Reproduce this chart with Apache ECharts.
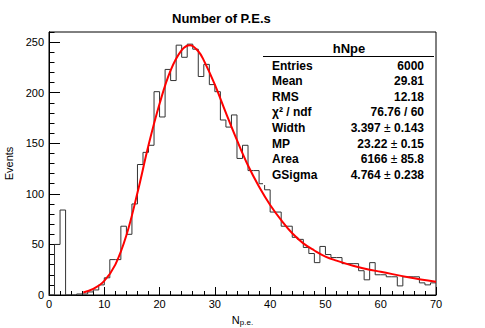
<!DOCTYPE html>
<html>
<head>
<meta charset="utf-8">
<title>Number of P.E.s</title>
<script src="https://cdn.jsdelivr.net/npm/echarts@6/dist/echarts.min.js"></script>
<style>
  html, body { margin: 0; padding: 0; background: #fff; }
  #main { width: 485px; height: 328px; }
</style>
</head>
<body>
<div id="main"></div>
<script>
// hNpe histogram: bins of width 1 from 0 to 70
var binStart = 0;
var binWidth = 1;
var counts = [
  0, 50, 84, 0, 0, 1, 1, 3, 5, 10,
  17, 35, 35, 68, 60, 90, 129, 141, 148, 201,
  176, 223, 212, 247, 235, 248, 243, 216, 228, 208,
  201, 173, 166, 178, 135, 148, 123, 123, 110, 104,
  82, 82, 68, 68, 57, 55, 47, 41, 32, 48,
  40, 37, 37, 31, 31, 31, 24, 15, 32, 20,
  20, 18, 18, 9, 18, 18, 18, 12, 10, 12
];

// fitted curve (landau x gauss)
var fitX = [6.2, 8, 10, 12, 14, 16, 18, 20, 22, 24, 25.5, 27, 28, 30, 32, 34, 36, 38, 40, 42, 44, 46, 48, 50, 52, 55, 58, 60, 65, 70];
var fitY = [2.5, 6, 14, 30, 59, 101, 148, 189, 222, 242, 247, 241, 232, 208, 180, 153, 128, 107, 89, 74, 61, 51, 44, 38, 34, 29, 25, 23, 17.5, 13];

// stats box
var statTitle = 'hNpe';
var statNames = ['Entries', 'Mean', 'RMS', 'χ² / ndf', 'Width', 'MP', 'Area', 'GSigma'];
var statValues = ['6000', '29.81', '12.18', '76.76 / 60', '3.397 ± 0.143', '23.22 ± 0.15', '6166 ± 85.8', '4.764 ± 0.238'];

var FONT = '"Liberation Sans", Arial, Helvetica, sans-serif';

var histData = counts.map(function (v, k) { return [binStart + k * binWidth, v]; });
histData.push([binStart + counts.length * binWidth, counts[counts.length - 1]]);
var fitData = fitX.map(function (x, i) { return [x, fitY[i]]; });

// the ± is drawn in a lighter weight, like ROOT's symbol font
function statText(s) {
  return s.split('±').map(function (p) { return '{b|' + p + '}'; }).join('{p|±}');
}

var richStat = {
  b: { fontFamily: FONT, fontSize: 12, fontWeight: 'bold', fill: '#000' },
  p: { fontFamily: FONT, fontSize: 12, fontWeight: 'normal', fill: '#000' }
};

// stats box graphics
var graphics = [
  { type: 'rect', z: 100, shape: { x: 263, y: 33, width: 172, height: 152 }, style: { fill: '#fff' } },
  { type: 'line', z: 101, shape: { x1: 263, y1: 56.5, x2: 434, y2: 56.5 }, style: { stroke: '#000', lineWidth: 1 } },
  { type: 'text', z: 101, x: 349, y: 48, style: { text: statTitle, fontFamily: FONT, fontSize: 13, fontWeight: 'bold', fill: '#000', align: 'center', verticalAlign: 'middle' } }
];
statNames.forEach(function (name, i) {
  var y = 65.5 + i * 15.6;
  graphics.push({ type: 'text', z: 101, x: 272, y: y, style: { text: name, fontFamily: FONT, fontSize: 12, fontWeight: 'bold', fill: '#000', align: 'left', verticalAlign: 'middle' } });
  graphics.push({ type: 'text', z: 101, x: 424, y: y, style: { text: statText(statValues[i]), rich: richStat, fontFamily: FONT, fontSize: 12, fontWeight: 'bold', fill: '#000', align: 'right', verticalAlign: 'middle' } });
});

var chart = echarts.init(document.getElementById('main'), null, { renderer: 'svg' });

var option = {
  animation: false,
  backgroundColor: '#fff',
  textStyle: { fontFamily: FONT },
  title: {
    text: 'Number of P.E.s',
    left: 167,
    top: 7,
    textStyle: { fontFamily: FONT, fontSize: 13, fontWeight: 'bold', color: '#000' }
  },
  grid: {
    left: 49, right: 49, top: 32, bottom: 33,
    show: true,
    borderColor: '#000',
    borderWidth: 1,
    backgroundColor: '#fff',
    containLabel: false,
    outerBoundsMode: 'none'
  },
  xAxis: {
    type: 'value',
    min: 0,
    max: 70,
    interval: 10,
    name: '{n|N}{s|p.e.}',
    nameLocation: 'middle',
    nameGap: 12,
    nameTextStyle: {
      rich: {
        n: { fontFamily: FONT, fontSize: 11, color: '#000', verticalAlign: 'top', lineHeight: 12 },
        s: { fontFamily: FONT, fontSize: 8, color: '#000', verticalAlign: 'bottom', padding: [5, 0, 0, 0], lineHeight: 9 }
      }
    },
    axisLine: { show: true, lineStyle: { color: '#000', width: 1 } },
    axisTick: { show: true, inside: true, length: 8, lineStyle: { color: '#000' } },
    minorTick: { show: true, splitNumber: 5, length: 4, lineStyle: { color: '#000' } },
    axisLabel: { color: '#000', fontSize: 11, margin: 3, fontFamily: FONT },
    splitLine: { show: false }
  },
  yAxis: [
    {
      // minor ticks every 10
      type: 'value',
      position: 'left',
      min: 0,
      max: 260,
      interval: 10,
      axisLine: { show: true, lineStyle: { color: '#000', width: 1 } },
      axisTick: { show: true, inside: true, length: 5.5, lineStyle: { color: '#000' } },
      axisLabel: { show: false },
      splitLine: { show: false }
    },
    {
      // major ticks every 50
      type: 'value',
      position: 'left',
      min: 0,
      max: 260,
      interval: 50,
      name: 'Events',
      nameLocation: 'middle',
      nameGap: 28,
      nameTextStyle: { fontFamily: FONT, fontSize: 11, color: '#000' },
      axisLine: { show: true, lineStyle: { color: '#000', width: 1 } },
      axisTick: { show: true, inside: true, length: 11, lineStyle: { color: '#000' } },
      axisLabel: { color: '#000', fontSize: 11, margin: 5, showMaxLabel: false, fontFamily: FONT },
      splitLine: { show: false }
    }
  ],
  graphic: graphics,
  series: [
    {
      name: 'hNpe',
      type: 'line',
      yAxisIndex: 0,
      step: 'end',
      data: histData,
      showSymbol: false,
      lineStyle: { color: '#333', width: 1 },
      z: 3
    },
    {
      name: 'fit',
      type: 'line',
      yAxisIndex: 0,
      smooth: 0.4,
      data: fitData,
      showSymbol: false,
      lineStyle: { color: '#ff0000', width: 2 },
      z: 4
    }
  ]
};

chart.setOption(option);
</script>
</body>
</html>
